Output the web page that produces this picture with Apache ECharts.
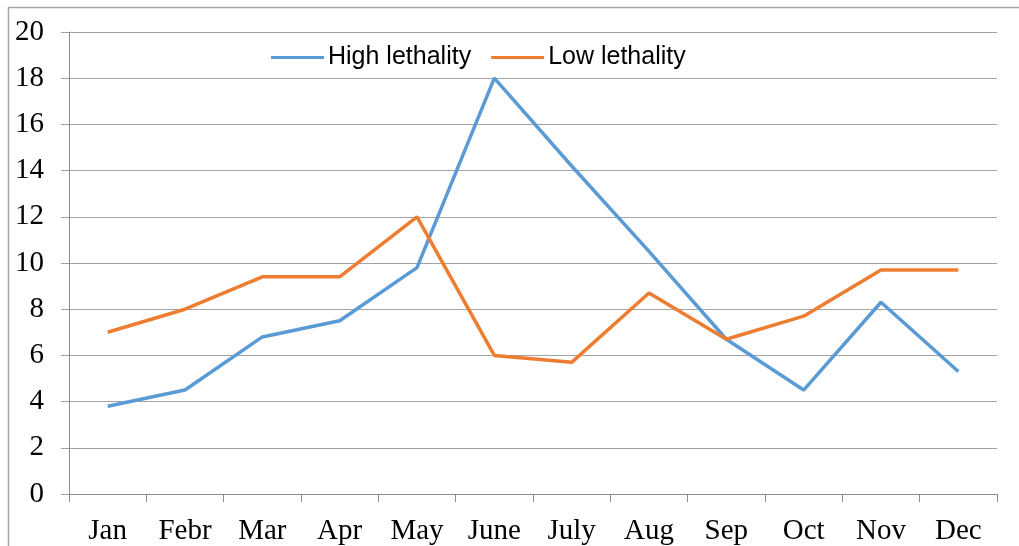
<!DOCTYPE html>
<html>
<head>
<meta charset="utf-8">
<script src="https://cdn.jsdelivr.net/npm/echarts@6/dist/echarts.min.js"></script>
<style>
  html, body { margin: 0; padding: 0; background: #fff; }
  #chart { width: 1019px; height: 546px; }
</style>
</head>
<body>
<div id="chart"></div>
<script>
const months = ['Jan', 'Febr', 'Mar', 'Apr', 'May', 'June', 'July', 'Aug', 'Sep', 'Oct', 'Nov', 'Dec'];
const highLethality = [3.8, 4.5, 6.8, 7.5, 9.8, 18, 14.2, 10.5, 6.7, 4.5, 8.3, 5.3];
const lowLethality  = [7, 8, 9.4, 9.4, 12, 6, 5.7, 8.7, 6.7, 7.7, 9.7, 9.7];

const SERIF = '"Liberation Serif", "DejaVu Serif", serif';
const SANS  = '"Liberation Sans", Arial, sans-serif';
const GRID_GRAY = '#a3a3a3';

const chart = echarts.init(document.getElementById('chart'), null, { renderer: 'canvas' });

chart.setOption({
    animation: false,
    backgroundColor: '#fff',
    // outer chart frame, partly cut off at the right and bottom edges
    graphic: [{
        type: 'rect',
        shape: { x: 8.5, y: 7.5, width: 1100, height: 600 },
        style: { fill: 'none', stroke: '#a6a6a6', lineWidth: 1.5 },
        silent: true,
    }],
    grid: { left: 69, right: 22, top: 32, bottom: 51 },
    legend: {
        top: 45,
        left: 271,
        padding: 0,
        itemWidth: 53,
        itemHeight: 3,
        itemGap: 20,
        icon: 'rect',
        textStyle: { fontFamily: SANS, fontSize: 25, color: '#000', padding: [0, 0, 0, -1] },
        data: ['High lethality', 'Low lethality'],
    },
    xAxis: {
        type: 'category',
        data: months,
        boundaryGap: true,
        axisLine: { lineStyle: { color: '#8c8c8c', width: 1 } },
        axisTick: { show: true, length: 8, alignWithLabel: false, lineStyle: { color: '#8c8c8c' } },
        axisLabel: { fontFamily: SERIF, fontSize: 29, color: '#000', margin: 23 },
        splitLine: { show: false },
    },
    yAxis: {
        type: 'value',
        min: 0,
        max: 20,
        interval: 2,
        axisLine: { show: true, lineStyle: { color: '#8c8c8c', width: 1 } },
        axisTick: { show: true, length: 8, lineStyle: { color: GRID_GRAY } },
        axisLabel: { fontFamily: SERIF, fontSize: 29, color: '#000', margin: 25 },
        splitLine: { show: true, lineStyle: { color: GRID_GRAY, width: 1 } },
    },
    series: [
        {
            name: 'High lethality',
            type: 'line',
            data: highLethality,
            symbol: 'none',
            color: '#5b9bd5',
            lineStyle: { width: 3.5, color: '#5b9bd5' },
        },
        {
            name: 'Low lethality',
            type: 'line',
            data: lowLethality,
            symbol: 'none',
            color: '#ed7d31',
            lineStyle: { width: 3.5, color: '#ed7d31' },
        },
    ],
});
</script>
</body>
</html>
